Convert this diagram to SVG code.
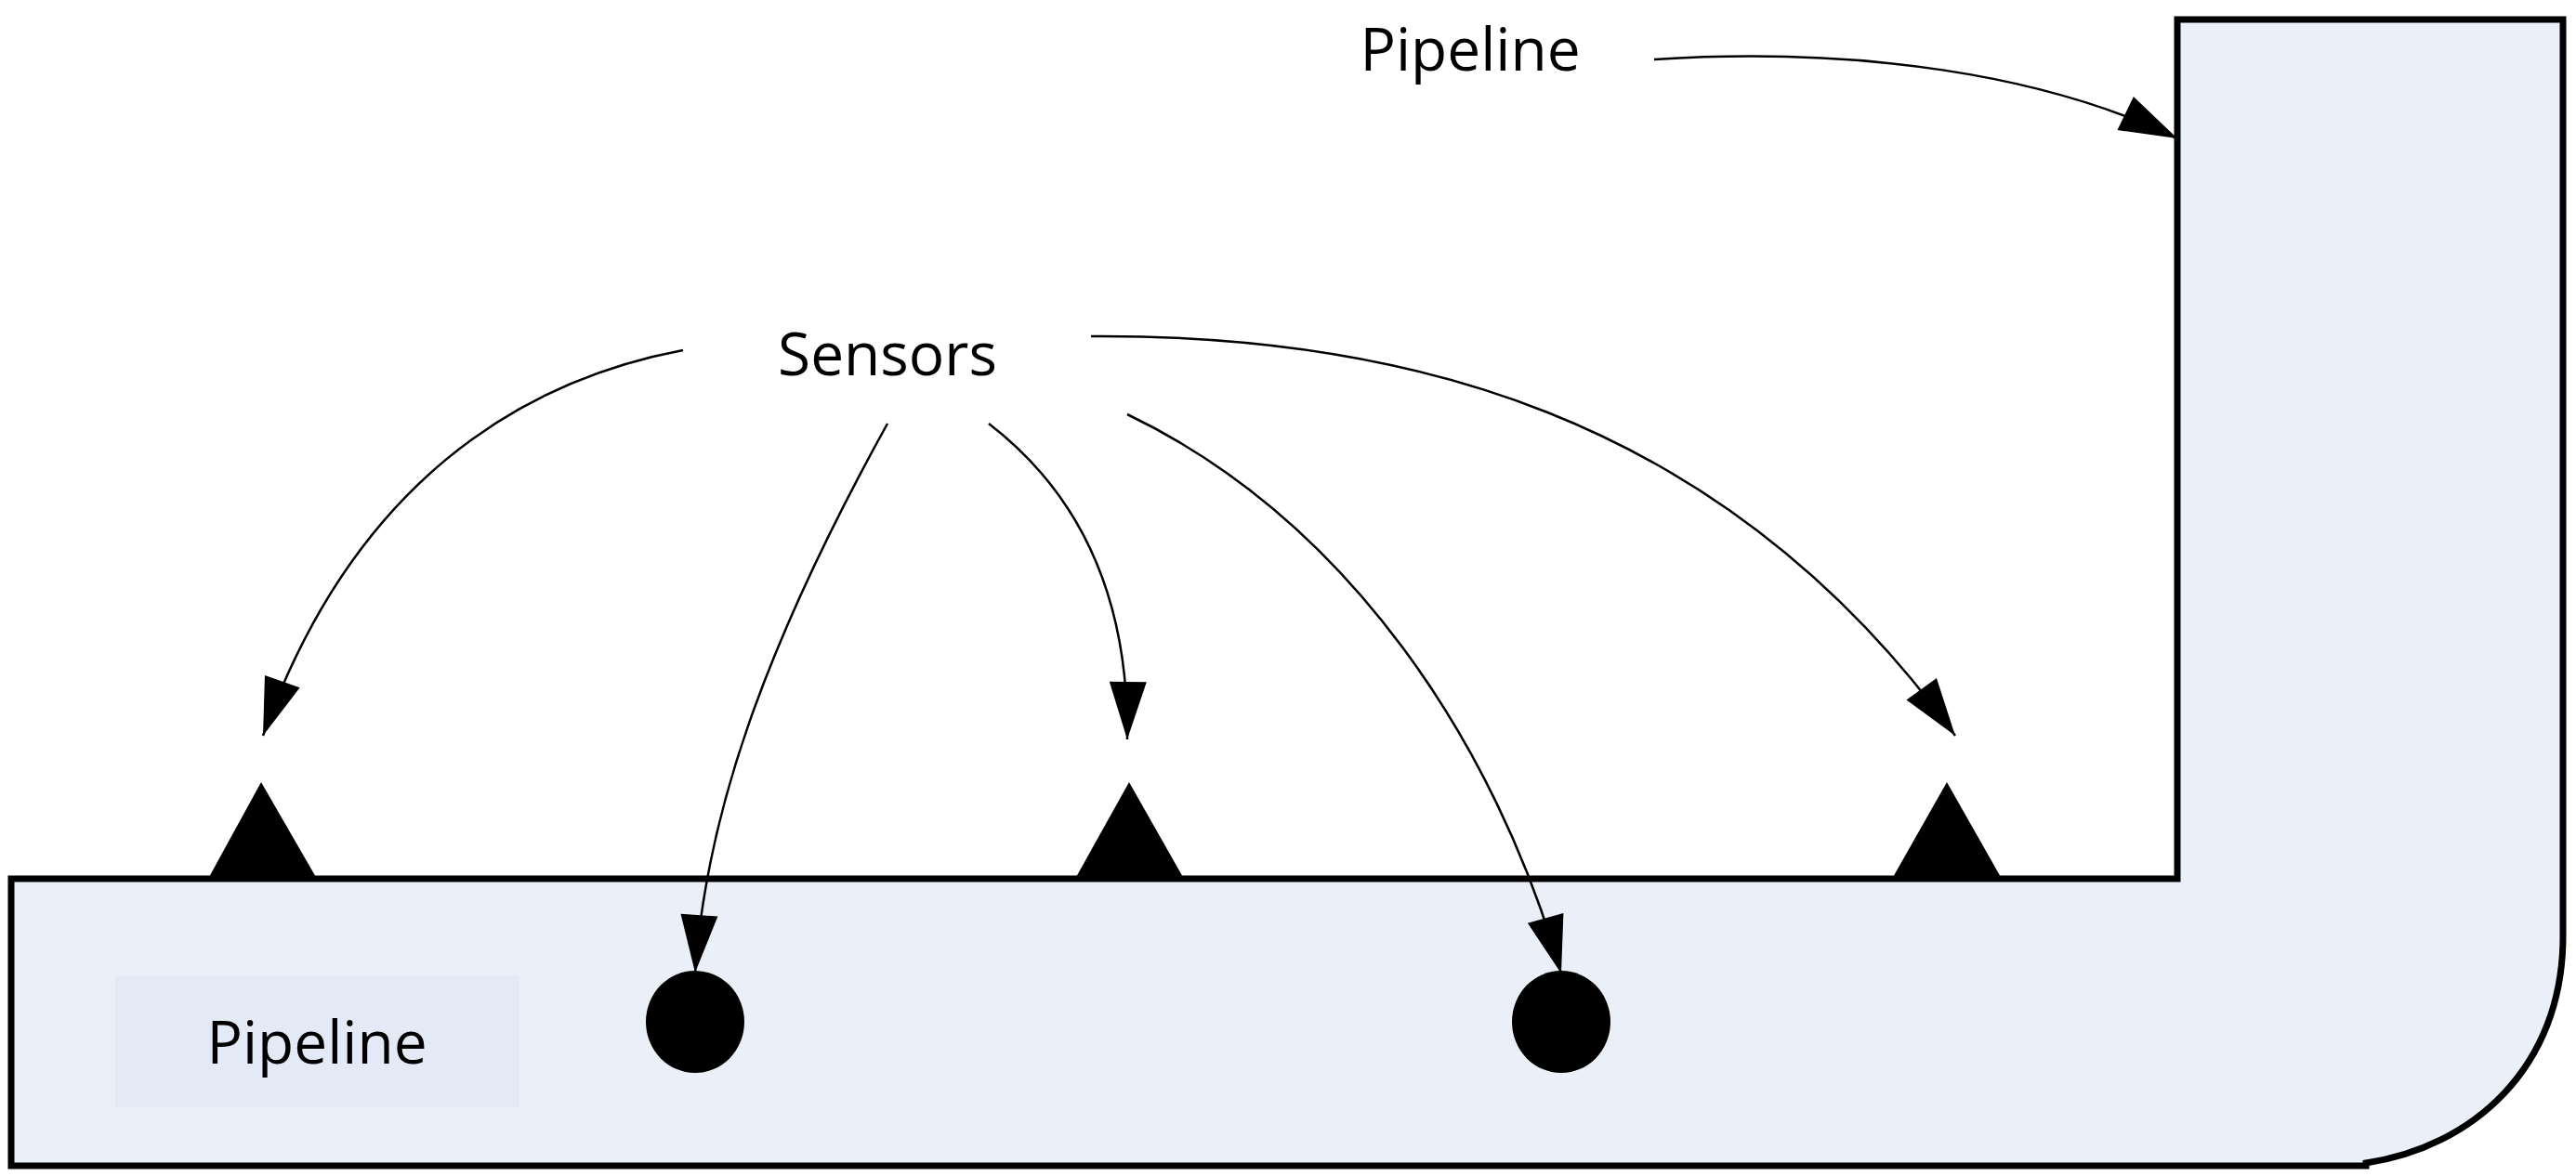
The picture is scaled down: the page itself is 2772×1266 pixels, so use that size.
<svg xmlns="http://www.w3.org/2000/svg" width="2772" height="1266" viewBox="0 0 2772 1266">
<style>
.lbl{font-family:"Open Sans","Liberation Sans",sans-serif;font-size:64px;fill:#000}
.con{fill:none;stroke:#000;stroke-width:2.5}
</style>
<defs>
<marker id="ah" markerUnits="userSpaceOnUse" markerWidth="70" markerHeight="50" viewBox="-64 -25 70 50" refX="0" refY="0" orient="auto">
<path d="M0,0 L-62,-20 L-62,20 Z" fill="#000"/>
</marker>
</defs>
<rect width="2772" height="1266" fill="#fff"/>
<g id="pipe">
<path d="M12 946 H2343 V21 H2758 V1008 C2758 1150 2660 1235 2546 1252 L2546 1255 H12 Z" fill="#ebeff8" stroke="#000" stroke-width="7"/>
</g>
<g id="pipe-label-box">
<rect x="124" y="1050" width="435" height="142" fill="#e3e9f5"/>
<text class="lbl" x="341" y="1145" text-anchor="middle">Pipeline</text>
</g>
<g id="pipe-label-top"><text class="lbl" x="1582" y="76" text-anchor="middle">Pipeline</text></g>
<g id="sensors-label"><text class="lbl" x="955" y="404" text-anchor="middle">Sensors</text></g>
<g id="sensor1"><polygon points="281,842 224,946 341,946"/></g>
<g id="sensor2"><polygon points="1215,842 1157,946 1274,946"/></g>
<g id="sensor3"><polygon points="2095,842 2036,946 2154,946"/></g>
<g id="sensor4"><ellipse cx="748" cy="1100" rx="53" ry="55"/></g>
<g id="sensor5"><ellipse cx="1680" cy="1100" rx="53" ry="55"/></g>
<g id="connectors">
<path class="con" marker-end="url(#ah)" d="M735,377 C560,410 380,520 283,792"/>
<path class="con" marker-end="url(#ah)" d="M955,456 C820,700 760,880 748,1047"/>
<path class="con" marker-end="url(#ah)" d="M1064,456 C1160,530 1215,640 1213,796"/>
<path class="con" marker-end="url(#ah)" d="M1213,446 C1450,560 1610,800 1680,1048"/>
<path class="con" marker-end="url(#ah)" d="M1174,362 C1500,360 1850,440 2104,792"/>
<path class="con" marker-end="url(#ah)" d="M1780,64 C2000,50 2200,80 2343,149"/>
</g>
</svg>
